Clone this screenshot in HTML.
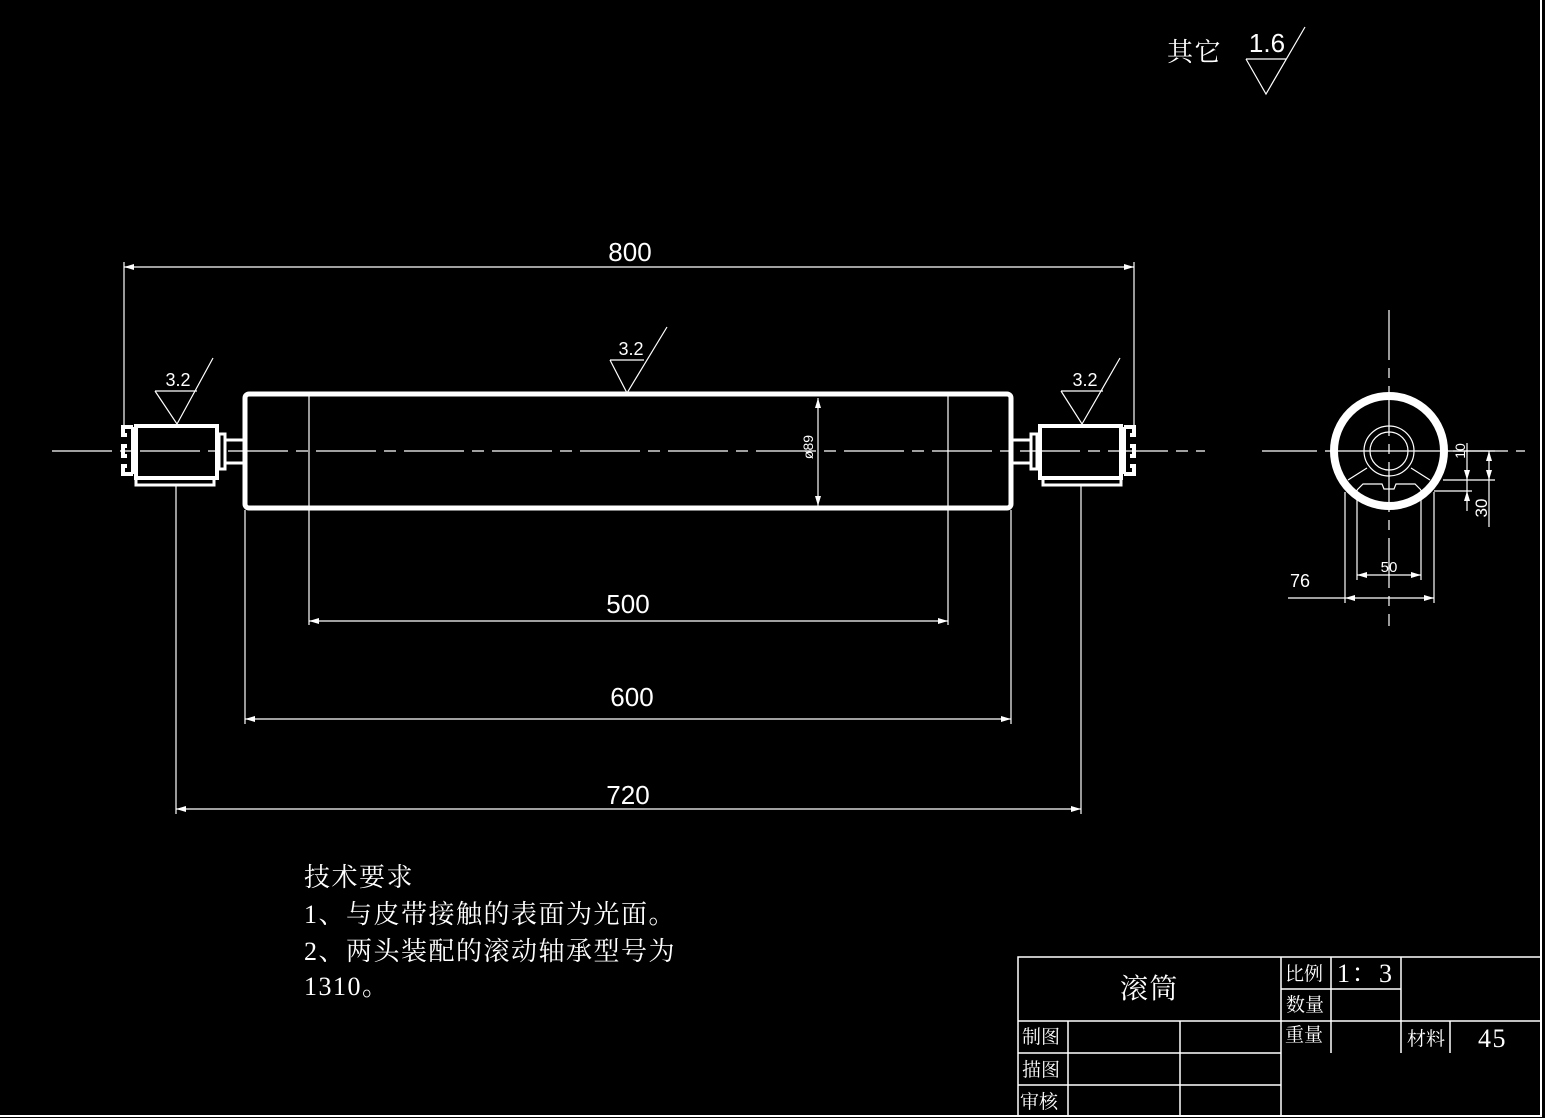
<!DOCTYPE html>
<html><head><meta charset="utf-8"><style>
html,body{margin:0;padding:0;background:#000;}
svg{display:block;}
.t{font-family:"Liberation Sans","DejaVu Sans",sans-serif;fill:#fff;}
.c{font-family:"Liberation Serif","Noto Serif CJK SC","Noto Sans CJK SC",serif;fill:#fff;}
</style></head><body>
<svg width="1545" height="1118" viewBox="0 0 1545 1118" xmlns="http://www.w3.org/2000/svg">
<rect width="1545" height="1118" fill="#000"/>
<g stroke="#fff" fill="none">
<line x1="1541" y1="0" x2="1541" y2="1117" stroke-width="2"/>
<line x1="0" y1="1116" x2="1541" y2="1116" stroke-width="2"/>
<line x1="52" y1="451" x2="1205" y2="451" stroke-width="1.2" stroke-dasharray="60,8,12,8"/>
<rect x="245" y="394" width="766" height="114" rx="4" stroke-width="5"/>
<line x1="309" y1="396" x2="309" y2="625" stroke-width="1.2"/>
<line x1="948" y1="396" x2="948" y2="625" stroke-width="1.2"/>
<line x1="818" y1="398" x2="818" y2="506" stroke-width="1.2"/>
<path d="M818 398 l-3 10 h6z M818 506 l-3 -10 h6z" fill="#fff" stroke="none"/>
<rect x="136" y="426" width="81" height="52" stroke-width="4"/>
<rect x="136" y="478" width="78" height="7" stroke-width="3"/>
<path d="M133 427 h-10 v8 h4 M127 446 h-4 v10 h4 M127 466 h-4 v8 h10 M133 427 v47" stroke-width="4"/>
<rect x="219" y="434" width="6" height="35" stroke-width="3"/>
<line x1="226" y1="440" x2="245" y2="440" stroke-width="3"/>
<line x1="226" y1="463" x2="245" y2="463" stroke-width="3"/>
<rect x="1040" y="426" width="81" height="52" stroke-width="4"/>
<rect x="1043" y="478" width="78" height="7" stroke-width="3"/>
<path d="M1124 427 h10 v8 h-4 M1130 446 h4 v10 h-4 M1130 466 h4 v8 h-10 M1124 427 v47" stroke-width="4"/>
<rect x="1031" y="434" width="6" height="35" stroke-width="3"/>
<line x1="1011" y1="440" x2="1030" y2="440" stroke-width="3"/>
<line x1="1011" y1="463" x2="1030" y2="463" stroke-width="3"/>
<line x1="124" y1="262" x2="124" y2="425" stroke-width="1.2"/>
<line x1="1134" y1="262" x2="1134" y2="425" stroke-width="1.2"/>
<line x1="176" y1="486" x2="176" y2="814" stroke-width="1.2"/>
<line x1="1081" y1="486" x2="1081" y2="814" stroke-width="1.2"/>
<line x1="245" y1="510" x2="245" y2="724" stroke-width="1.2"/>
<line x1="1011" y1="510" x2="1011" y2="724" stroke-width="1.2"/>
<line x1="124" y1="267" x2="1134" y2="267" stroke-width="1.2"/>
<line x1="309" y1="621" x2="948" y2="621" stroke-width="1.2"/>
<line x1="245" y1="719" x2="1011" y2="719" stroke-width="1.2"/>
<line x1="176" y1="809" x2="1081" y2="809" stroke-width="1.2"/>
<path d="M610 360 h34 M610 360 L627 393 L667 327" stroke-width="1.2"/>
<path d="M155 391 h42 M155 391 L177 424 L213 358" stroke-width="1.2"/>
<path d="M1061 391 h42 M1061 391 L1082 424 L1120 358" stroke-width="1.2"/>
<path d="M1246 59 h40 M1246 59 L1266 94 L1305 27" stroke-width="1.2"/>
<line x1="1389" y1="310" x2="1389" y2="626" stroke-width="1.2" stroke-dasharray="50,8,10,8"/>
<line x1="1262" y1="451" x2="1525" y2="451" stroke-width="1.2" stroke-dasharray="55,8,120,8"/>
<circle cx="1389" cy="451" r="55" stroke-width="8"/>
<circle cx="1389" cy="451" r="25" stroke-width="1.2"/>
<circle cx="1389" cy="451" r="19" stroke-width="1.2"/>
<path d="M1367 468 L1348 480 M1411 468 L1430 480" stroke-width="1.2"/>
<path d="M1357 490 L1363 484 H1382 L1384 489 H1394 L1396 484 H1415 L1421 490" stroke-width="1.2"/>
<path d="M1357 490 V580 M1421 490 V580 M1345 492 V603 M1434 492 V603" stroke-width="1.2"/>
<path d="M1357 575 H1421 M1288 598 H1434" stroke-width="1.2"/>
<path d="M1446 451 H1495 M1443 480 H1495 M1434 491 H1472" stroke-width="1.2"/>
<path d="M1467 443 V511 M1489 451 V527" stroke-width="1.2"/>
<g stroke-width="1.5">
<rect x="1018" y="957" width="523" height="159"/>
<line x1="1018" y1="1021" x2="1541" y2="1021"/>
<line x1="1018" y1="1053" x2="1281" y2="1053"/>
<line x1="1018" y1="1085" x2="1281" y2="1085"/>
<line x1="1281" y1="989" x2="1401" y2="989"/>
<line x1="1068" y1="1021" x2="1068" y2="1116"/>
<line x1="1180" y1="1021" x2="1180" y2="1116"/>
<line x1="1281" y1="957" x2="1281" y2="1116"/>
<line x1="1331" y1="957" x2="1331" y2="1053"/>
<line x1="1401" y1="957" x2="1401" y2="1053"/>
<line x1="1450" y1="1021" x2="1450" y2="1053"/>
</g>
</g>
<g fill="#fff">
<path d="M124 267 l10 -3 v6z M1134 267 l-10 -3 v6z M309 621 l10 -3 v6z M948 621 l-10 -3 v6z M245 719 l10 -3 v6z M1011 719 l-10 -3 v6z M176 809 l10 -3 v6z M1081 809 l-10 -3 v6z"/>
<path d="M1357 575 l10 -3 v6z M1421 575 l-10 -3 v6z M1345 598 l10 -3 v6z M1434 598 l-10 -3 v6z"/>
<path d="M1467 480 l-3 -10 h6z M1467 491 l-3 10 h6z M1489 451 l-3 10 h6z M1489 480 l-3 -10 h6z"/>
</g>
<g class="t" font-size="26" text-anchor="middle">
<text x="630" y="261">800</text>
<text x="628" y="613">500</text>
<text x="632" y="706">600</text>
<text x="628" y="804">720</text>
</g>
<g class="t" font-size="18" text-anchor="middle">
<text x="631" y="355">3.2</text>
<text x="178" y="386">3.2</text>
<text x="1085" y="386">3.2</text>
<text x="1389" y="572" font-size="15">50</text>
<text x="1300" y="587" font-size="18">76</text>
<text x="818" y="452" font-size="14" transform="rotate(-90 813 452)">ø89</text>
<text x="1460" y="451" font-size="14" transform="rotate(-90 1460 451)" dy="5">10</text>
<text x="1482" y="508" font-size="17" transform="rotate(-90 1482 508)" dy="5">30</text>
<text x="1267" y="52" font-size="26">1.6</text>
</g>
<g class="c" font-size="26" letter-spacing="1.5">
<text x="1167" y="61">其它</text>
<text x="304" y="886">技术要求</text>
<text x="304" y="923">1、与皮带接触的表面为光面。</text>
<text x="304" y="960">2、两头装配的滚动轴承型号为</text>
<text x="304" y="995">1310。</text>
<text x="1120" y="998" font-size="28">滚筒</text>
<text x="1337" y="982" font-size="26">1：3</text>
<text x="1478" y="1047" font-size="26">45</text>
</g>
<g class="c" font-size="19">
<text x="1285" y="980">比例</text>
<text x="1286" y="1011">数量</text>
<text x="1285" y="1041">重量</text>
<text x="1407" y="1045">材料</text>
<text x="1022" y="1043">制图</text>
<text x="1022" y="1076">描图</text>
<text x="1020" y="1108">审核</text>
</g>
</svg>
</body></html>
